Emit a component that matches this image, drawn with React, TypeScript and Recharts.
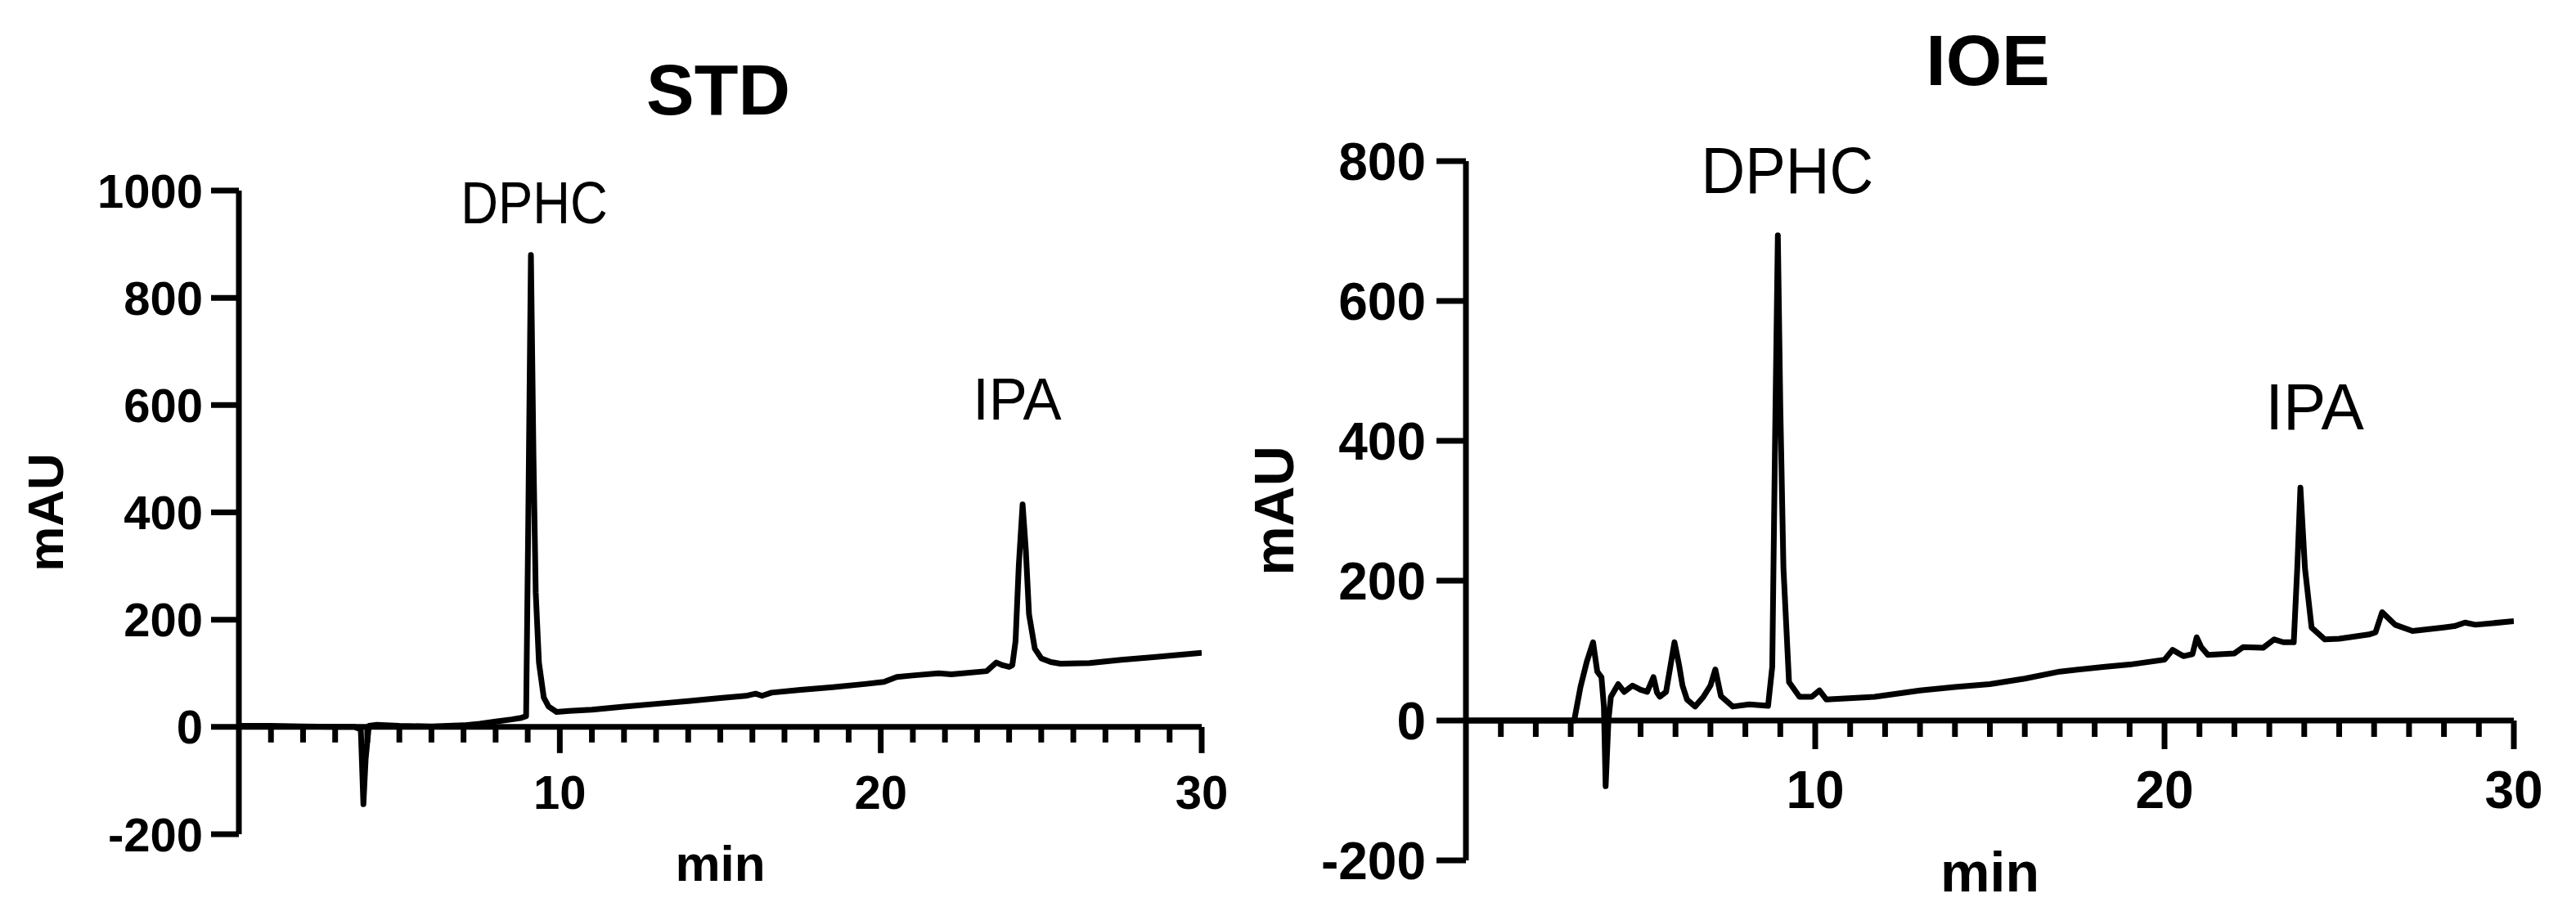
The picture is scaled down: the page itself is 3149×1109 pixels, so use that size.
import React from "react";
import { LineChart, Line, XAxis, YAxis, ReferenceLine, ReferenceDot } from "recharts";

// retention time (min) and absorbance (mAU)
const stdTime = [
  0, 1, 2, 3, 3.6, 3.8, 3.88, 3.95, 4.05, 4.3, 5, 6, 7, 7.5, 8, 8.5, 8.8, 8.95,
  9.02, 9.1, 9.18, 9.25, 9.35, 9.5, 9.65, 9.9, 10.3, 11, 12, 13, 14, 15, 15.8,
  16.1, 16.3, 16.6, 17.5, 18.5, 19.5, 20.1, 20.5, 21, 21.8, 22.2, 23.3, 23.6,
  23.8, 24.0, 24.1, 24.2, 24.3, 24.42, 24.52, 24.62, 24.8, 25.0, 25.3, 25.6,
  26.5, 27.5, 28.5, 30,
];
const stdSignal = [
  2, 2, 1, 0, 0, -5, -144, -60, 2, 4, 2, 1, 3, 6, 10, 14, 17, 20,
  400, 880, 500, 250, 120, 55, 38, 28, 30, 32, 38, 43, 48, 54, 58,
  62, 58, 64, 69, 74, 80, 84, 93, 96, 100, 98, 104, 120,
  115, 112, 115, 160, 300, 415, 330, 210, 146, 128, 121, 118,
  119, 125, 130, 138,
];

const ioeTime = [
  0, 3.1, 3.28, 3.46, 3.64, 3.76, 3.88, 3.95, 4.0, 4.08, 4.15, 4.36, 4.53, 4.77,
  5.0, 5.19, 5.37, 5.47, 5.55, 5.73, 5.97, 6.1, 6.2, 6.33, 6.56, 6.8, 7.0, 7.14,
  7.3, 7.64, 8.11, 8.65, 8.77, 8.85, 8.93, 9.0, 9.09, 9.25, 9.55, 9.9, 10.12,
  10.32, 11.7, 13, 14, 15, 16, 17, 18.3, 19, 20, 20.23, 20.54, 20.8, 20.92,
  21.05, 21.24, 22, 22.25, 22.82, 23.14, 23.4, 23.7, 23.8, 23.89, 24.02, 24.21,
  24.59, 25, 25.85, 26.04, 26.23, 26.6, 27.1, 27.99, 28.3, 28.6, 28.9, 30,
];
const ioeSignal = [
  0, 0, 48, 84, 112, 70, 62, 20, -94, 0, 34, 52, 41, 50,
  44, 41, 62, 40, 34, 41, 112, 80, 50, 30, 20, 34, 50, 73,
  35, 20, 23, 21, 77, 400, 694, 450, 218, 55, 34, 34, 43,
  30, 34, 43, 48, 52, 60, 70, 77, 80, 87, 101, 92, 95, 119,
  105, 94, 96, 105, 104, 116, 112, 112, 218, 333, 218, 133,
  116, 117, 123, 126, 155, 137, 128, 133, 135, 140, 137, 142,
];

const xLabelTicks = [10, 20, 30];
const minuteTicks = [
  1, 2, 3, 4, 5, 6, 7, 8, 9, 10, 11, 12, 13, 14, 15, 16, 17, 18, 19, 20,
  21, 22, 23, 24, 25, 26, 27, 28, 29, 30,
];
const stdYTicks = [-200, 0, 200, 400, 600, 800, 1000];
const ioeYTicks = [-200, 0, 200, 400, 600, 800];
const peakNames = ["DPHC", "IPA"];

const FONT = "'Liberation Sans', Arial, Helvetica, sans-serif";

const PeakLabel = (props: any) => {
  const { viewBox, text, size, squeeze } = props;
  const cx = viewBox.x + viewBox.width / 2;
  const cy = viewBox.y + viewBox.height / 2;
  return (
    <text
      x={cx}
      y={cy + size * 0.355}
      textAnchor="middle"
      fontSize={size}
      fontFamily={FONT}
      fill="#000"
      transform={`translate(${cx} 0) scale(${squeeze} 1) translate(${-cx} 0)`}
    >
      {text}
    </text>
  );
};

const Panel = (props: any) => {
  const {
    times, signal, yTicks, yDomain, labelSpots, left, width, height, margin,
    yAxisWidth, xAxisHeight, tickFont, peakFont, majorTick, minorTick,
    yTickLen, yTickGap, xTickShift, yLabelDx, xLabelDy,
  } = props;
  const data = times.map((t: number, i: number) => ({ t, v: signal[i] }));
  const plotH = height - margin.top - margin.bottom - xAxisHeight;
  const unit = plotH / (yDomain[1] - yDomain[0]);
  const tickStyle = { fontSize: tickFont, fontWeight: 700, fontFamily: FONT, fill: "#000" };

  return (
    <div style={{ position: "absolute", left, top: 0 }}>
      <LineChart width={width} height={height} data={data} margin={margin}>
        <XAxis
          dataKey="t"
          type="number"
          domain={[0, 30]}
          ticks={xLabelTicks}
          interval={0}
          allowDataOverflow
          axisLine={false}
          tickLine={false}
          tickSize={0}
          tickMargin={xTickShift}
          height={xAxisHeight}
          tick={tickStyle}
          label={{
            value: "min",
            position: "center",
            dy: xLabelDy,
            fontSize: tickFont + 4,
            fontWeight: 700,
            fontFamily: FONT,
            fill: "#000",
          }}
        />
        <YAxis
          type="number"
          domain={yDomain}
          ticks={yTicks}
          interval={0}
          allowDataOverflow
          width={yAxisWidth}
          axisLine={{ stroke: "#000", strokeWidth: 7 }}
          tickLine={{ stroke: "#000", strokeWidth: 7 }}
          tickSize={yTickLen}
          tickMargin={yTickGap}
          tick={tickStyle}
          label={{
            value: "mAU",
            angle: -90,
            position: "center",
            dx: yLabelDx,
            fontSize: tickFont + 4,
            fontWeight: 700,
            fontFamily: FONT,
            fill: "#000",
          }}
        />
        <ReferenceLine y={0} stroke="#000" strokeWidth={7} />
        {minuteTicks.map((m) => (
          <ReferenceLine
            key={m}
            segment={[
              { x: m, y: 0 },
              { x: m, y: -(m % 10 === 0 ? majorTick : minorTick) / unit },
            ]}
            stroke="#000"
            strokeWidth={7}
          />
        ))}
        {peakNames.map((name, i) => (
          <ReferenceDot
            key={name}
            x={labelSpots[i].t}
            y={labelSpots[i].v}
            r={1}
            fill="none"
            stroke="none"
            label={<PeakLabel text={name} size={peakFont} squeeze={labelSpots[i].squeeze} />}
          />
        ))}
        <Line
          type="linear"
          dataKey="v"
          stroke="#000"
          strokeWidth={7}
          strokeLinejoin="round"
          dot={false}
          isAnimationActive={false}
        />
      </LineChart>
    </div>
  );
};

const titleStyle = (cx: number, top: number): React.CSSProperties => ({
  position: "absolute",
  left: cx - 200,
  top,
  width: 400,
  textAlign: "center",
  fontFamily: FONT,
  fontWeight: 700,
  fontSize: 88,
  lineHeight: "88px",
});

export default function App() {
  return (
    <div style={{ position: "absolute", left: 0, top: 0, width: 3149, height: 1109, background: "#fff" }}>
      <div style={titleStyle(878, 66)}>STD</div>
      <div style={titleStyle(2430, 30)}>IOE</div>
      <Panel
        times={stdTime}
        signal={stdSignal}
        yTicks={stdYTicks}
        yDomain={[-200, 1000]}
        labelSpots={[
          { t: 9.2, v: 978, squeeze: 0.88 },
          { t: 24.25, v: 612, squeeze: 0.98 },
        ]}
        left={0}
        width={1560}
        height={1109}
        margin={{ top: 233, right: 91, bottom: 0, left: 0 }}
        yAxisWidth={292}
        xAxisHeight={89}
        tickFont={58}
        peakFont={72}
        majorTick={32}
        minorTick={19}
        yTickLen={34}
        yTickGap={10}
        xTickShift={-72}
        yLabelDx={-91}
        xLabelDy={-10}
      />
      <Panel
        times={ioeTime}
        signal={ioeSignal}
        yTicks={ioeYTicks}
        yDomain={[-200, 800]}
        labelSpots={[
          { t: 9.2, v: 788, squeeze: 0.93 },
          { t: 24.3, v: 450, squeeze: 0.98 },
        ]}
        left={1500}
        width={1649}
        height={1109}
        margin={{ top: 197, right: 76, bottom: 0, left: 0 }}
        yAxisWidth={292}
        xAxisHeight={57}
        tickFont={64}
        peakFont={80}
        majorTick={35}
        minorTick={20}
        yTickLen={36}
        yTickGap={13}
        xTickShift={-109}
        yLabelDx={-89}
        xLabelDy={-15}
      />
    </div>
  );
}
